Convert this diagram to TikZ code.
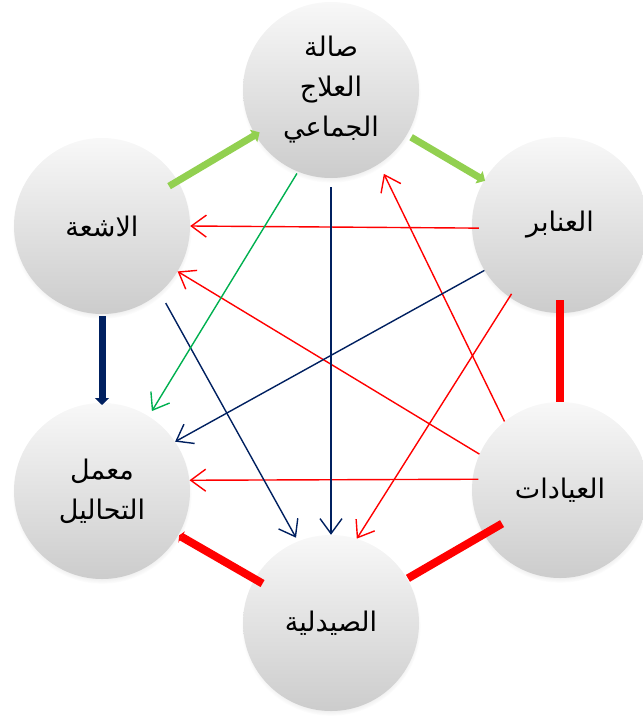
\documentclass[tikz,border=0pt]{standalone}
\usepackage{fontspec}
\usepackage{tikz}
\usetikzlibrary{arrows.meta}
\usetikzlibrary{shadows}
\newfontfamily\arabicfont[Script=Arabic]{DejaVu Sans}
\TeXXeTstate=1
\definecolor{ltgreen}{RGB}{146,208,80}
\definecolor{dkgreen}{RGB}{0,176,80}
\definecolor{deepblue}{RGB}{0,32,96}
\definecolor{ballhi}{RGB}{248,248,248}
\definecolor{balllo}{RGB}{204,204,204}
\tikzset{
    unit/.style={circle, minimum size=176pt, inner sep=0pt,
        top color=ballhi, bottom color=balllo,
        circular drop shadow={shadow xshift=0pt, shadow yshift=-3pt, shadow scale=1.02, opacity=0.3},
        font=\arabicfont\fontsize{27}{40}\selectfont, align=center},
    flow/.style={line width=1.4pt, -{Straight Barb[length=15pt,width=22pt]}},
    bond/.style={line width=7pt},
    bondtip/.style={-{Triangle[length=7pt,width=14pt]}},
}

\begin{document}
\begin{tikzpicture}[x=1pt, y=-1pt]
    \useasboundingbox (0,0) rectangle (642,719);
    \node[unit] (T) at (331,90) {\beginR صالة\endR\\\beginR العلاج\endR\\\beginR الجماعي\endR};
    \node[unit] (X) at (102,226) {\beginR الاشعة\endR};
    \node[unit] (W) at (560,225) {\beginR العنابر\endR};
    \node[unit] (L) at (102,491) {\beginR معمل\endR\\\beginR التحاليل\endR};
    \node[unit] (C) at (560,490) {\beginR العيادات\endR};
    \node[unit] (P) at (331,623) {\beginR الصيدلية\endR};

    % thick links round the ring
    \draw[bond, ltgreen, bondtip, shorten <=78pt, shorten >=83pt] (X.center) -- (T.center);
    \draw[bond, ltgreen, bondtip, shorten <=93pt, shorten >=87pt] (T.center) -- (W.center);
    \draw[bond, deepblue, bondtip, shorten <=90pt, shorten >=86pt] (X.center) -- (L.center);
    \draw[bond, red, line width=8pt, shorten <=75pt, shorten >=88pt] (W.center) -- (C.center);
    \draw[bond, red, line width=8pt, shorten <=67pt, shorten >=89pt] (C.center) -- (P.center);
    \draw[bond, red, line width=8pt, -{Triangle[length=3pt,width=13pt]}, shorten <=79pt, shorten >=89pt] (P.center) -- (L.center);

    % thin arrows across
    \draw[flow, red, shorten <=-7pt] (W.182) -- (X.0);
    \draw[flow, red] (C.156) -- (X.-31);
    \draw[flow, red, shorten <=-6pt] (C.173) -- (L.7);
    \draw[flow, red, shorten <=-4pt] (W.235) -- (P.73);
    \draw[flow, red, shorten >=11pt] (C.129) -- (T.-57);
    \draw[flow, deepblue, shorten <=9pt] (T.270) -- (P.90);
    \draw[flow, deepblue, shorten <=12pt, shorten >=4pt] (X.-49) -- (P.112);
    \draw[flow, deepblue] (W.211) -- (L.34);
    \draw[flow, dkgreen, shorten <=2pt, shorten >=6pt] (T.248) -- (L.58);
\end{tikzpicture}
\end{document}
